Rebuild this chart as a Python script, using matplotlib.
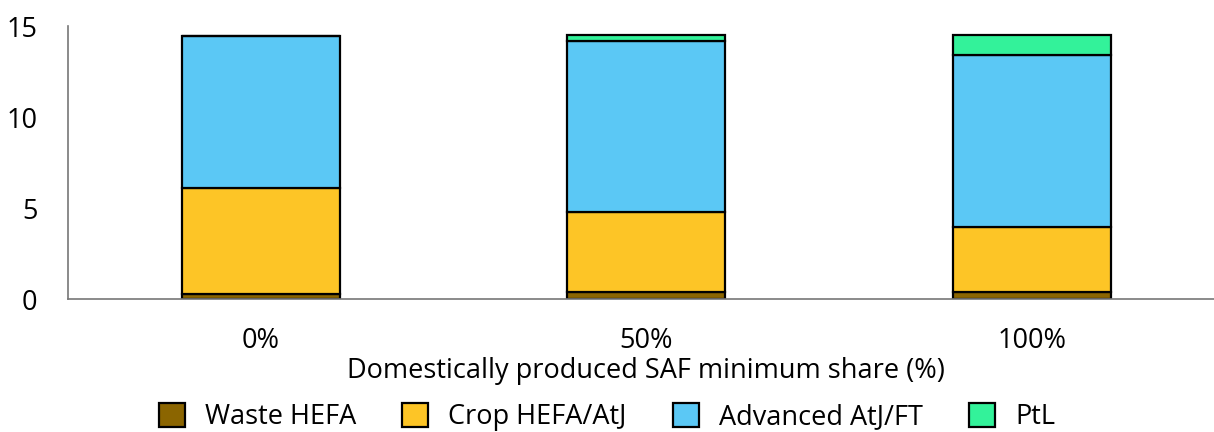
import matplotlib
matplotlib.use("Agg")
import matplotlib.pyplot as plt
import numpy as np

plt.rcParams['font.family'] = ['Open Sans', 'DejaVu Sans']

categories = ["0%", "50%", "100%"]
waste_hefa = [0.3, 0.4, 0.4]
crop_hefa_atj = [5.8, 4.4, 3.6]
advanced_atj_ft = [8.35, 9.4, 9.4]
ptl = [0.0, 0.3, 1.1]

series = [
    ("Waste HEFA", waste_hefa, "#8B6500"),
    ("Crop HEFA/AtJ", crop_hefa_atj, "#FDC526"),
    ("Advanced AtJ/FT", advanced_atj_ft, "#5BC8F5"),
    ("PtL", ptl, "#33F29A"),
]

fig = plt.figure(figsize=(12.14, 4.32), dpi=100)
ax = fig.add_axes([0.056, 0.307, 0.9525, 0.632])

x = np.arange(len(categories))
bottom = np.zeros(len(categories))
handles = []
for name, vals, color in series:
    vals = np.array(vals)
    bars = ax.bar(x, vals, width=0.41, bottom=bottom, color=color,
                  edgecolor="black", linewidth=1.6, label=name)
    bottom += vals
    handles.append(bars)

ax.set_xlim(-0.5, 2.5)
ax.set_ylim(0, 15)
ax.set_yticks([0, 5, 10, 15])
ax.set_xticks(x)
ax.set_xticklabels(categories, fontsize=19.5)
ax.tick_params(axis="y", labelsize=19.5, length=0, pad=22)
ax.tick_params(axis="x", length=0, pad=20)
for side in ("top", "right"):
    ax.spines[side].set_visible(False)
for side in ("left", "bottom"):
    ax.spines[side].set_color("#777777")
    ax.spines[side].set_linewidth(1.2)

ax.set_xlabel("Domestically produced SAF minimum share (%)", fontsize=19.5, labelpad=1)

fig.legend(handles=handles, labels=[s[0] for s in series], loc="lower center",
           bbox_to_anchor=(0.5, -0.055), ncol=4, frameon=False, fontsize=19.5,
           handlelength=0.95, handleheight=0.95, columnspacing=1.7, handletextpad=0.75)

fig.savefig("out.png", dpi=100)
